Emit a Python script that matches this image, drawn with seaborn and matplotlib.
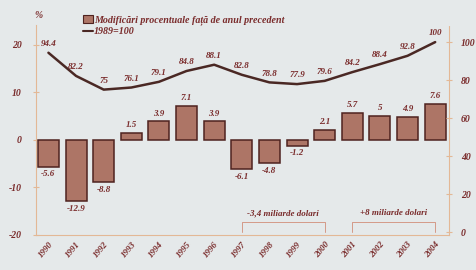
import numpy as np
import pandas as pd
import matplotlib
matplotlib.use("Agg")
import matplotlib.pyplot as plt
import seaborn as sns
from matplotlib.patches import Patch
from matplotlib.lines import Line2D

# data
years = [str(y) for y in range(1990, 2005)]
pct_change = [-5.6, -12.9, -8.8, 1.5, 3.9, 7.1, 3.9, -6.1, -4.8, -1.2, 2.1, 5.7, 5, 4.9, 7.6]
index_1989 = [94.4, 82.2, 75, 76.1, 79.1, 84.8, 88.1, 82.8, 78.8, 77.9, 79.6, 84.2, 88.4, 92.8, 100]
pct_labels = ["-5.6", "-12.9", "-8.8", "1.5", "3.9", "7.1", "3.9", "-6.1", "-4.8", "-1.2",
              "2.1", "5.7", "5", "4.9", "7.6"]
idx_labels = ["94.4", "82.2", "75", "76.1", "79.1", "84.8", "88.1", "82.8", "78.8", "77.9",
              "79.6", "84.2", "88.4", "92.8", "100"]
brackets = [("-3,4 miliarde dolari", "1997", "2000"), ("+8 miliarde dolari", "2001", "2004")]
legend_bar = "Modificări procentuale față de anul precedent"
legend_line = "1989=100"

bg = "#e5e9ea"
txt = "#7a2c2c"
bar_fill = "#ad7566"
bar_edge = "#4e221f"
line_col = "#4a2824"
spine_col = "#e3b896"

sns.set_style("white")
plt.rcParams['font.family'] = ['Liberation Serif', 'DejaVu Serif']
plt.rcParams['font.weight'] = 'bold'
plt.rcParams['font.style'] = 'italic'
plt.rcParams['axes.unicode_minus'] = False

df = pd.DataFrame({"year": years, "pct": pct_change, "idx": index_1989})
df["pos"] = np.arange(len(df))

fig = plt.figure(figsize=(4.76, 2.70), dpi=100, facecolor=bg)
ax = fig.add_axes([36/476, 35/270, 413/476, 210/270], facecolor=bg)

sns.barplot(data=df, x="year", y="pct", color=bar_fill, edgecolor=bar_edge,
            linewidth=1.1, width=0.76, saturation=1, ax=ax)
ax.set_ylim(-20, 24.2)
ax.set_xlim(-0.45, 14.5)
ax.set_yticks([-20, -10, 0, 10, 20])
ax.set_xlabel("")
ax.set_ylabel("")

for i, (v, lab) in enumerate(zip(pct_change, pct_labels)):
    if v >= 0:
        ax.text(i, v + 0.8, lab, ha="center", va="bottom", fontsize=6.5, color=txt)
    else:
        ax.text(i, v - 0.8, lab, ha="center", va="top", fontsize=6.5, color=txt)

# brackets for the trade totals
for lab, y0, y1 in brackets:
    a, b = years.index(y0), years.index(y1)
    ax.plot([a, a, b, b], [-19.4, -17.3, -17.3, -19.4], color="#d49a88", lw=0.7, clip_on=False)
    ax.text((a + b) / 2, -15.4, lab, ha="center", va="center", fontsize=6.5, color=txt)

ax2 = ax.twinx()
sns.lineplot(data=df, x="pos", y="idx", color=line_col, lw=1.8, ax=ax2)
ax2.set_ylim(-1.5, 109)
ax2.set_yticks([0, 20, 40, 60, 80, 100])
ax2.set_xlabel("")
ax2.set_ylabel("")
for i, (v, lab) in enumerate(zip(index_1989, idx_labels)):
    ax2.text(i, v + 2.5, lab, ha="center", va="bottom", fontsize=6.5, color=txt)

for a_ in (ax, ax2):
    for s in a_.spines.values():
        s.set_visible(False)
ax.spines["left"].set_visible(True)
ax.spines["left"].set_color(spine_col)
ax.spines["bottom"].set_visible(True)
ax.spines["bottom"].set_color(spine_col)
ax2.spines["right"].set_visible(True)
ax2.spines["right"].set_color(spine_col)
ax2.spines["right"].set_linestyle((0, (2, 1)))

ax.tick_params(axis="y", direction="inout", length=5, color=spine_col, labelsize=7,
               labelcolor=txt, pad=8)
ax.tick_params(axis="x", direction="out", length=3, color=spine_col, labelsize=6.5,
               labelcolor=txt, pad=1)
ax2.tick_params(axis="y", direction="inout", length=5, color=spine_col, labelsize=7,
                labelcolor=txt, pad=6)
for t in ax.get_xticklabels():
    t.set_rotation(50)
    t.set_ha("right")
    t.set_rotation_mode("anchor")

handles = [Patch(facecolor=bar_fill, edgecolor=bar_edge, lw=0.8),
           Line2D([], [], color=line_col, lw=1.5)]
fig.legend(handles, [legend_bar, legend_line], loc="upper left",
           bbox_to_anchor=(78/476, 1 - 10/270), frameon=False, fontsize=7.2,
           handlelength=1.0, handleheight=0.8, handletextpad=0.1, labelspacing=0.2,
           labelcolor=txt, borderpad=0)
fig.text(38/476, 1 - 15/270, "%", fontsize=7, color=txt, ha="center", va="center")

fig.savefig("out.png", dpi=100, facecolor=bg)
